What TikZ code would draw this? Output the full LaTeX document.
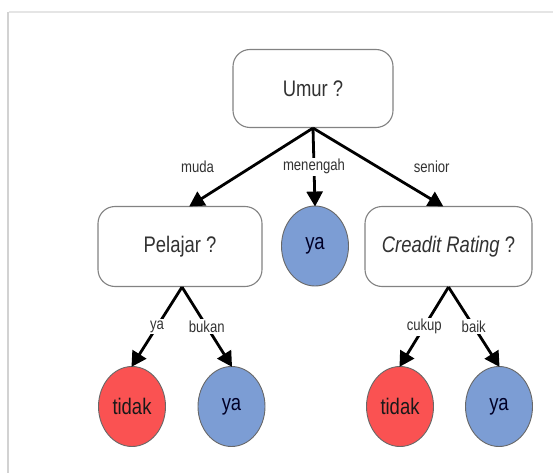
\documentclass[tikz,border=0pt]{standalone}
\usepackage{fontspec}
\setmainfont{Liberation Sans}
\usetikzlibrary{shapes.geometric,arrows.meta}
\definecolor{leafblue}{RGB}{124,157,212}
\definecolor{leafred}{RGB}{250,82,82}
\definecolor{boxline}{RGB}{130,130,130}
\definecolor{txtgray}{RGB}{50,50,50}
\newcommand{\narrowtxt}[1]{\scalebox{0.82}[1]{#1}}
\tikzset{
  qbox/.style={draw=boxline, line width=1.1pt, rounded corners=17pt, fill=white,
    minimum width=160pt, minimum height=78pt, inner sep=0pt,
    text=txtgray, font=\fontsize{22.5}{25}\selectfont},
  leaf/.style={ellipse, draw=boxline!80!black, line width=0.9pt,
    minimum width=67pt, minimum height=80pt, inner sep=0pt,
    font=\fontsize{22.5}{25}\selectfont},
  yes/.style={leaf, fill=leafblue, text=black!85!blue},
  no/.style={leaf, fill=leafred, text=black!90},
  conn/.style={line width=2.8pt, -{Triangle[length=15pt,width=16pt]}, shorten >=-1pt},
  lab/.style={font=\fontsize{16}{18}\selectfont, text=txtgray, inner sep=1.5pt},
  labw/.style={lab, fill=white}
}
\begin{document}
\begin{tikzpicture}[x=1pt,y=-1pt]
\useasboundingbox (0,0) rectangle (553,473);
% frame
\draw[gray!35, line width=2.5pt] (8,12) -- (8,473);
\draw[gray!20, line width=1.5pt] (9,12) -- (553,12);
% nodes
\node[qbox] (umur) at (313,88.5) {\narrowtxt{Umur ?}};
\node[qbox, minimum width=164pt, minimum height=80pt] (pel) at (180,246.5) {\narrowtxt{Pelajar ?}};
\node[yes] (ya1) at (315,246) {\narrowtxt{ya}};
\node[qbox, minimum width=167pt, minimum height=80pt] (cre) at (448.5,246.5) {\narrowtxt{\textit{Creadit Rating} ?}};
\node[no] (td1) at (132,406.5) {\narrowtxt{tidak}};
\node[yes] (ya2) at (231.5,406.5) {\narrowtxt{ya}};
\node[no] (td2) at (400,406.5) {\narrowtxt{tidak}};
\node[yes] (ya3) at (499,406.5) {\narrowtxt{ya}};
% connectors
\draw[conn] (umur.south) -- ([xshift=10pt]pel.north) node[lab, pos=0.5, xshift=-54pt] {\narrowtxt{muda}};
\draw[conn] (umur.south) -- (ya1.north) node[labw, pos=0.5] {\narrowtxt{menengah}};
\draw[conn] (umur.south) -- ([xshift=-6pt]cre.north) node[lab, pos=0.5, xshift=54pt] {\narrowtxt{senior}};
\draw[conn] ([xshift=2pt]pel.south) -- (td1.north) node[labw, pos=0.5] {\narrowtxt{ya}};
\draw[conn] ([xshift=2pt]pel.south) -- (ya2.north) node[labw, pos=0.5] {\narrowtxt{bukan}};
\draw[conn] (cre.south) -- (td2.north) node[labw, pos=0.5] {\narrowtxt{cukup}};
\draw[conn] (cre.south) -- (ya3.north) node[labw, pos=0.5] {\narrowtxt{baik}};
\end{tikzpicture}
\end{document}
